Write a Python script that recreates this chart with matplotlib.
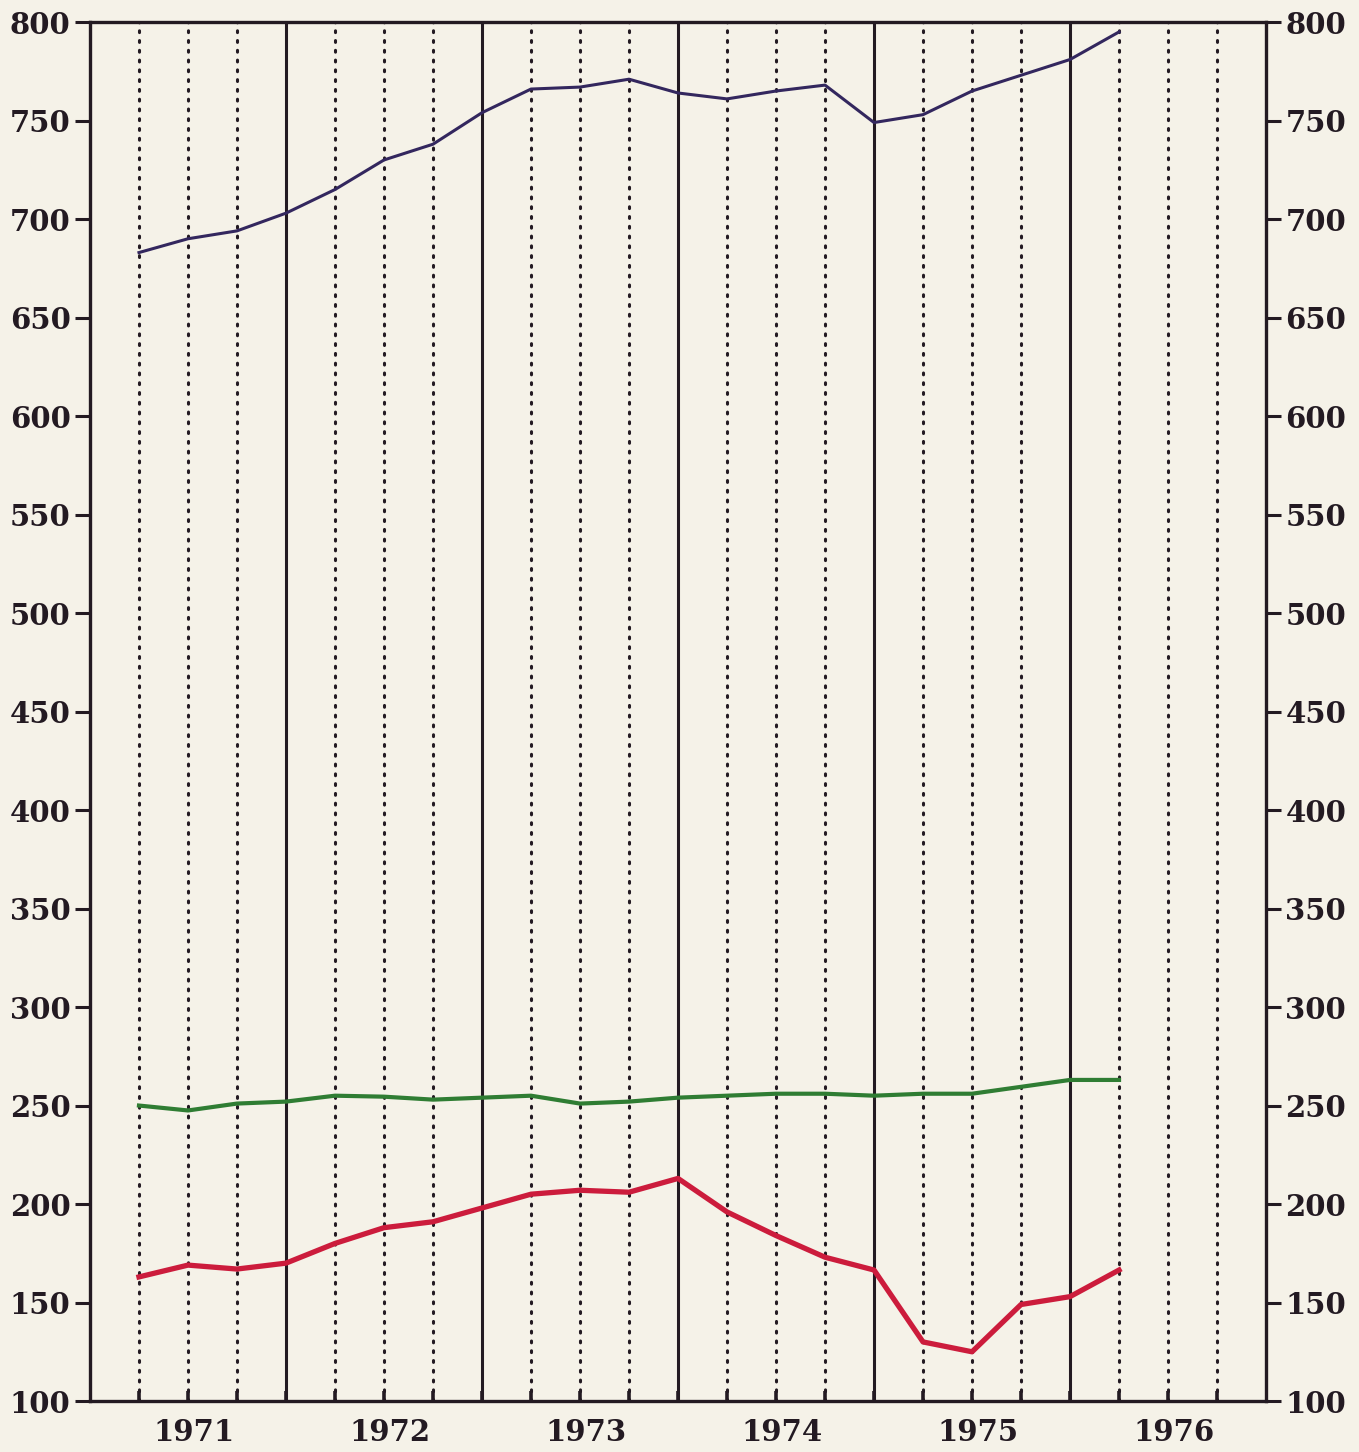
"""Quarterly series 1971-1976, three lines on a dotted quarter grid."""

import numpy as np
import matplotlib
matplotlib.use("Agg")
import matplotlib.pyplot as plt

# quarter positions (in years) of the data points
QUARTERS = [1971.25, 1971.5, 1971.75, 1972.0, 1972.25, 1972.5, 1972.75,
            1973.0, 1973.25, 1973.5, 1973.75, 1974.0, 1974.25, 1974.5,
            1974.75, 1975.0, 1975.25, 1975.5, 1975.75, 1976.0, 1976.25]

TOP_SERIES = [683, 690, 694, 703, 715, 730, 738, 754, 766, 767, 771,
              764, 761, 765, 768, 749, 753, 765, 773, 781, 795]
MID_SERIES = [250, 247.5, 251, 252, 255, 254.5, 253, 254, 255, 251, 252,
              254, 255, 256, 256, 255, 256, 256, 259.5, 263, 263]
LOW_SERIES = [163, 169, 167, 170, 180, 188, 191, 198, 205, 207, 206,
              213, 196, 184, 173, 166.5, 130, 125, 149, 153, 166.5]

YEARS = [1971, 1972, 1973, 1974, 1975, 1976]
Y_TICKS = list(range(100, 801, 50))

BG = "#f5f2e8"
INK = "#231a22"


def main():
    fig = plt.figure(figsize=(13.59, 14.52), dpi=100, facecolor=BG)
    ax = fig.add_axes([0.0662, 0.0351, 0.8654, 0.9497], facecolor=BG)

    x_min, x_max = YEARS[0], YEARS[-1] + 1
    ax.set_xlim(x_min, x_max)
    ax.set_ylim(100, 800)

    # grid: solid at year boundaries, dotted at quarters
    for q in np.arange(x_min + 0.25, x_max, 0.25):
        if abs(q - round(q)) < 1e-6:
            ax.axvline(q, color=INK, lw=2.2, zorder=1)
        else:
            ax.axvline(q, color=INK, lw=2.2, linestyle=(0, (0.6, 2.6)),
                       dash_capstyle="round", zorder=1)

    ax.plot(QUARTERS, TOP_SERIES, color="#33275e", lw=2.2, zorder=3)
    ax.plot(QUARTERS, MID_SERIES, color="#2f7d33", lw=3.0, zorder=3)
    ax.plot(QUARTERS, LOW_SERIES, color="#cc1c3c", lw=3.8, zorder=3)

    for side in ["left", "right", "top", "bottom"]:
        ax.spines[side].set_color(INK)
        ax.spines[side].set_linewidth(2.4)

    font = dict(family="DejaVu Serif", weight="bold", size=21, color=INK)

    ax.set_yticks(Y_TICKS)
    ax.set_yticklabels([str(v) for v in Y_TICKS], **font)
    ax.tick_params(axis="y", which="major", direction="out", length=11,
                   width=2.2, color=INK, left=True, right=True,
                   labelleft=True, labelright=True, pad=3)

    ax.set_xticks(np.arange(x_min + 0.25, x_max, 0.25))
    ax.tick_params(axis="x", which="major", direction="in", length=7,
                   width=2.6, color=INK, labelbottom=False)
    ax.set_xticks([y + 0.53 for y in YEARS], minor=True)
    ax.set_xticklabels([str(y) for y in YEARS], minor=True, **font)
    ax.tick_params(axis="x", which="minor", length=0, pad=12)

    fig.savefig("out.png", dpi=100, facecolor=BG)
    plt.close(fig)


if __name__ == "__main__":
    main()
